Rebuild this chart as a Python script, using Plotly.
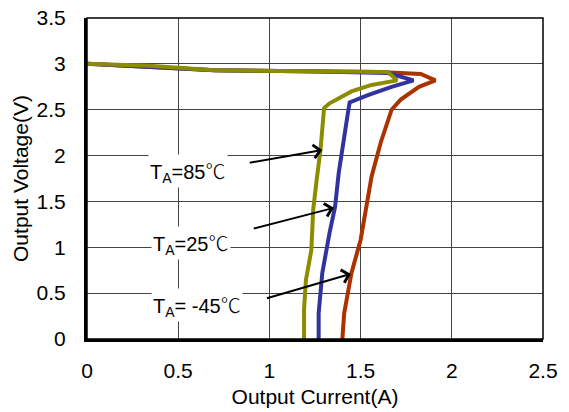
import plotly.graph_objects as go

# Output current (A) and voltage (V) for each ambient temperature
i_85 = [0.0, 0.34, 0.70, 1.20, 1.65, 1.70, 1.56, 1.45, 1.33, 1.30, 1.29, 1.28, 1.26, 1.24, 1.23, 1.20, 1.19, 1.19]
v_85 = [3.00, 2.98, 2.93, 2.92, 2.91, 2.82, 2.77, 2.70, 2.57, 2.52, 2.25, 2.06, 1.75, 1.41, 0.97, 0.64, 0.32, 0.0]

i_25 = [0.0, 0.70, 1.20, 1.65, 1.79, 1.67, 1.54, 1.44, 1.43, 1.40, 1.38, 1.36, 1.33, 1.29, 1.27, 1.27]
v_25 = [3.00, 2.93, 2.92, 2.90, 2.82, 2.75, 2.66, 2.58, 2.46, 2.09, 1.81, 1.44, 1.16, 0.72, 0.28, 0.0]

i_m45 = [0.0, 0.70, 1.20, 1.60, 1.83, 1.91, 1.82, 1.72, 1.67, 1.61, 1.56, 1.50, 1.45, 1.41, 1.40]
v_m45 = [3.00, 2.93, 2.92, 2.91, 2.89, 2.82, 2.75, 2.61, 2.50, 2.14, 1.77, 1.08, 0.72, 0.28, 0.0]

DEG = "<span style='font-family:Noto Sans CJK SC;font-weight:300'>℃</span>"
labels = ["T<sub>A</sub>=85" + DEG, "T<sub>A</sub>=25" + DEG, "T<sub>A</sub>= -45" + DEG]
label_pos = [(0.555, 1.83), (0.57, 1.05), (0.605, 0.37)]
arrow_tail = [(0.884, 1.92), (0.906, 1.20), (0.978, 0.44)]
arrow_head = [(1.29, 2.06), (1.354, 1.43), (1.447, 0.71)]

FONT = "Liberation Sans, Arial"

fig = go.Figure()
fig.add_trace(go.Scatter(x=i_m45, y=v_m45, mode="lines", line=dict(color="#AA3300", width=4), name="-45"))
fig.add_trace(go.Scatter(x=i_25, y=v_25, mode="lines", line=dict(color="#3333A0", width=4), name="25"))
fig.add_trace(go.Scatter(x=i_85, y=v_85, mode="lines", line=dict(color="#8C8C00", width=4), name="85"))

for lab, (lx, ly) in zip(labels, label_pos):
    fig.add_annotation(x=lx, y=ly, text=lab, showarrow=False, bgcolor="white",
                       font=dict(family=FONT, size=20, color="black"))
for (tx, ty), (hx, hy) in zip(arrow_tail, arrow_head):
    fig.add_annotation(x=hx, y=hy, ax=tx, ay=ty, axref="x", ayref="y", xref="x", yref="y",
                       text="", showarrow=True, arrowhead=4, arrowsize=1.3, arrowwidth=2, arrowcolor="black")

fig.add_shape(type="rect", xref="paper", yref="paper", x0=0, y0=0, x1=1, y1=1,
              line=dict(color="black", width=1.5))

fig.update_layout(
    width=569, height=412,
    margin=dict(l=87, r=26, t=18, b=73),
    plot_bgcolor="white", paper_bgcolor="white",
    showlegend=False,
    font=dict(family=FONT, size=21, color="black"),
    xaxis=dict(range=[0, 2.5], dtick=0.5, showgrid=True, gridcolor="#444", gridwidth=1,
               zeroline=False, showline=True, linecolor="black", linewidth=3,
               ticks="", ticklabelstandoff=11, automargin=False, ticklabeloverflow="allow",
               title=dict(text="Output Current(A)", standoff=9, font=dict(size=21))),
    yaxis=dict(range=[0, 3.5], dtick=0.5, showgrid=True, gridcolor="#444", gridwidth=1,
               zeroline=False, showline=True, linecolor="black", linewidth=3,
               ticks="", ticklabelstandoff=14, automargin=False, ticklabeloverflow="allow",
               title=dict(text="Output Voltage(V)", standoff=3, font=dict(size=21))),
)

fig.write_html("out.html", config={"displayModeBar": False},
               post_script="document.body.style.margin='0';")
